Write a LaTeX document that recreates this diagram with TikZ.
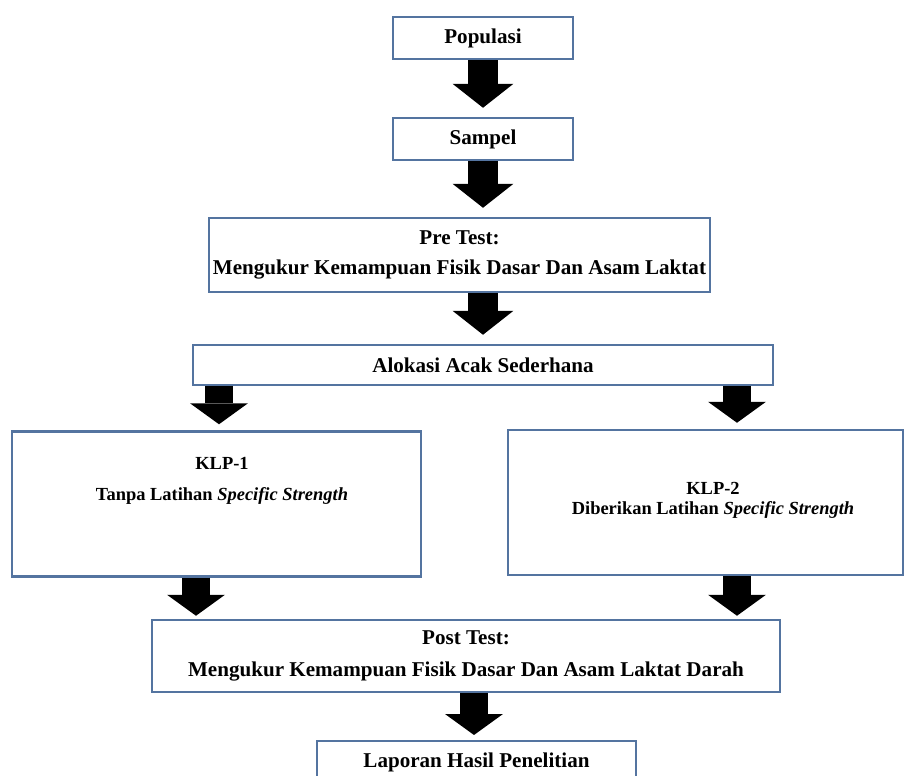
\documentclass[tikz,border=0pt]{standalone}
\usepackage{fontspec}
\setmainfont{Liberation Serif}[UprightFont=*, BoldFont=* Bold, ItalicFont=* Italic, BoldItalicFont=* Bold Italic]
\usetikzlibrary{arrows.meta}
\definecolor{boxline}{RGB}{84,116,160}

\begin{document}
\begin{tikzpicture}[x=0.02cm, y=-0.02cm,
  box/.style={rectangle, draw=boxline, line width=0.05cm, fill=white, text centered, align=center, inner sep=0pt, font=\bfseries\fontsize{12}{15}\selectfont},
  grptext/.style={align=center, inner sep=0pt, font=\bfseries\fontsize{10.5}{13}\selectfont},
  blockarrow/.style={line width=0.62cm, -{Triangle[width=1.22cm, length=0.48cm, line width=0pt]}, shorten >=0.18cm},
  smallarrow/.style={blockarrow, line width=0.56cm, -{Triangle[width=1.16cm, length=0.42cm, line width=0pt]}}
]
  \fill[white] (0,0) rectangle (904,776);
  \path[use as bounding box] (0,0) rectangle (904,776);
  \clip (0,0) rectangle (904,776);

  \node[box, minimum width=3.6cm, minimum height=0.84cm] (populasi) at (483,38) {Populasi};
  \node[box, minimum width=3.6cm, minimum height=0.84cm] (sampel) at (483,139) {Sampel};
  \node[box, minimum width=10.02cm, minimum height=1.48cm] (pretest) at (459.5,255) {Pre Test:\\[2pt] Mengukur Kemampuan Fisik Dasar Dan Asam Laktat};
  \node[box, minimum width=11.6cm, minimum height=0.8cm] (alokasi) at (483,365) {Alokasi Acak Sederhana};

  \node[box, minimum width=8.18cm, minimum height=2.9cm] (klp1) at (216.5,504) {};
  \node[grptext] (klp1text) at (222,481) {KLP-1\\[5pt] Tanpa Latihan \textit{Specific Strength}};
  \node[box, minimum width=7.9cm, minimum height=2.9cm] (klp2) at (705.5,502.5) {};
  \node[grptext] (klp2text) at (713,500) {KLP-2\\[-1.5pt] Diberikan Latihan \textit{Specific Strength}};

  \node[box, minimum width=12.56cm, minimum height=1.44cm] (posttest) at (466,656) {Post Test:\\[3pt] Mengukur Kemampuan Fisik Dasar Dan Asam Laktat Darah};
  \node[box, minimum width=6.38cm, minimum height=0.84cm, anchor=north] (laporan) at (476.5,740) {Laporan Hasil Penelitian};

  \draw[blockarrow] (populasi) -- (sampel);
  \draw[blockarrow] (sampel) -- (sampel |- pretest.north);
  \draw[blockarrow] (pretest.south -| 483,0) -- (alokasi.north -| 483,0);
  \draw[smallarrow, shorten >=0.12cm] (alokasi.south -| 219,0) -- (klp1.north -| 219,0);
  \draw[smallarrow, shorten >=0.12cm] (alokasi.south -| 737,0) -- (klp2.north -| 737,0);
  \draw[smallarrow, shorten >=0.06cm] (klp1.south -| 196,0) -- (posttest.north -| 196,0);
  \draw[smallarrow, shorten >=0.06cm] (klp2.south -| 737,0) -- (posttest.north -| 737,0);
  \draw[smallarrow, shorten >=0.1cm] (posttest.south -| 474,0) -- (laporan.north -| 474,0);
\end{tikzpicture}
\end{document}
